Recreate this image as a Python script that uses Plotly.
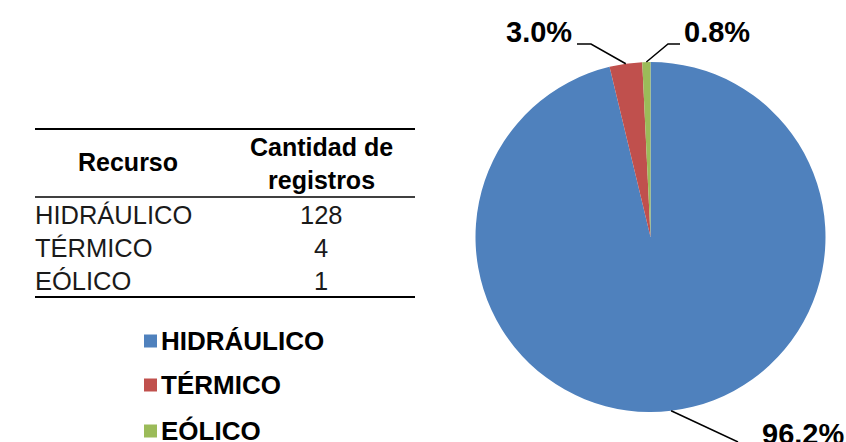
import math
import plotly.graph_objects as go

# ---- data ----
categories = ["HIDRÁULICO", "TÉRMICO", "EÓLICO"]
counts = [128, 4, 1]
colors = ["#4F81BD", "#C0504D", "#9BBB59"]
table_header = ["Recurso", "Cantidad de<br>registros"]

W, H = 846, 442
FONT = "Liberation Sans, Arial, sans-serif"

def px(x):
    return x / W

def py(y):
    return 1 - y / H

# pie geometry (pixels)
CX, CY, R = 650.5, 237.0, 175.0

fig = go.Figure()
fig.add_trace(go.Pie(
    labels=categories,
    values=counts,
    marker=dict(colors=colors, line=dict(width=0)),
    sort=False,
    direction="clockwise",
    rotation=0,
    textinfo="none",
    hoverinfo="label+value+percent",
    showlegend=False,
    domain=dict(x=[px(CX - R), px(CX + R)], y=[py(CY + R), py(CY - R)]),
))

total = sum(counts)
annotations = []
shapes = []

# percentage labels with leader lines
label_layout = [
    dict(tx=803, ty=434, pts=[(738, 442)]),
    dict(tx=539, ty=32, pts=[(577, 44), (591, 44)]),
    dict(tx=717, ty=32, pts=[(680, 44), (668, 44)]),
]
cum = 0
for i, v in enumerate(counts):
    mid = (cum + v / 2) / total
    cum += v
    ang = 2 * math.pi * mid
    ex = CX + R * math.sin(ang)
    ey = CY - R * math.cos(ang)
    lay = label_layout[i]
    pts = lay["pts"] + [(ex, ey)]
    path = "M " + " L ".join(f"{px(x)},{py(y)}" for x, y in pts)
    shapes.append(dict(type="path", xref="paper", yref="paper", path=path,
                       line=dict(color="black", width=1.5)))
    annotations.append(dict(
        x=px(lay["tx"]), y=py(lay["ty"]), xref="paper", yref="paper",
        text=f"<b>{v / total * 100:.1f}%</b>", showarrow=False,
        xanchor="center", yanchor="middle",
        font=dict(family=FONT, size=29, color="black")))

# table
TL, TR = 35, 415
for y, w in [(129, 2.2), (197, 1.5), (297, 2.2)]:
    shapes.append(dict(type="line", xref="paper", yref="paper",
                       x0=px(TL), x1=px(TR), y0=py(y), y1=py(y),
                       line=dict(color="black", width=w)))
annotations.append(dict(x=px(128), y=py(162), xref="paper", yref="paper",
                        text=f"<b>{table_header[0]}</b>", showarrow=False,
                        xanchor="center", yanchor="middle",
                        font=dict(family=FONT, size=25, color="black")))
annotations.append(dict(x=px(321), y=py(163), xref="paper", yref="paper",
                        text=f"<b>{table_header[1]}</b>", showarrow=False,
                        xanchor="center", yanchor="middle", align="center",
                        font=dict(family=FONT, size=25, color="black")))
row_y = [215, 248, 281]
for name, v, y in zip(categories, counts, row_y):
    annotations.append(dict(x=px(TL - 2), y=py(y), xref="paper", yref="paper",
                            text=name, showarrow=False, xanchor="left", yanchor="middle",
                            font=dict(family=FONT, size=25.5, color="#1a1a1a")))
    annotations.append(dict(x=px(321), y=py(y), xref="paper", yref="paper",
                            text=str(v), showarrow=False, xanchor="center", yanchor="middle",
                            font=dict(family=FONT, size=25.5, color="#1a1a1a")))

# legend
leg_y = [341, 385, 431]
for name, c, y in zip(categories, colors, leg_y):
    shapes.append(dict(type="rect", xref="paper", yref="paper",
                       x0=px(144), x1=px(157), y0=py(y - 6.5), y1=py(y + 6.5),
                       fillcolor=c, line=dict(width=0)))
    annotations.append(dict(x=px(159), y=py(y), xref="paper", yref="paper",
                            text=f"<b>{name}</b>", showarrow=False,
                            xanchor="left", yanchor="middle",
                            font=dict(family=FONT, size=26, color="black")))

fig.update_layout(
    width=W, height=H,
    margin=dict(l=0, r=0, t=0, b=0),
    paper_bgcolor="white", plot_bgcolor="white",
    shapes=shapes, annotations=annotations,
    font=dict(family=FONT),
)
fig.write_html("out.html", config={"displayModeBar": False},
               post_script="document.body.style.margin='0';document.body.style.overflow='hidden';")
